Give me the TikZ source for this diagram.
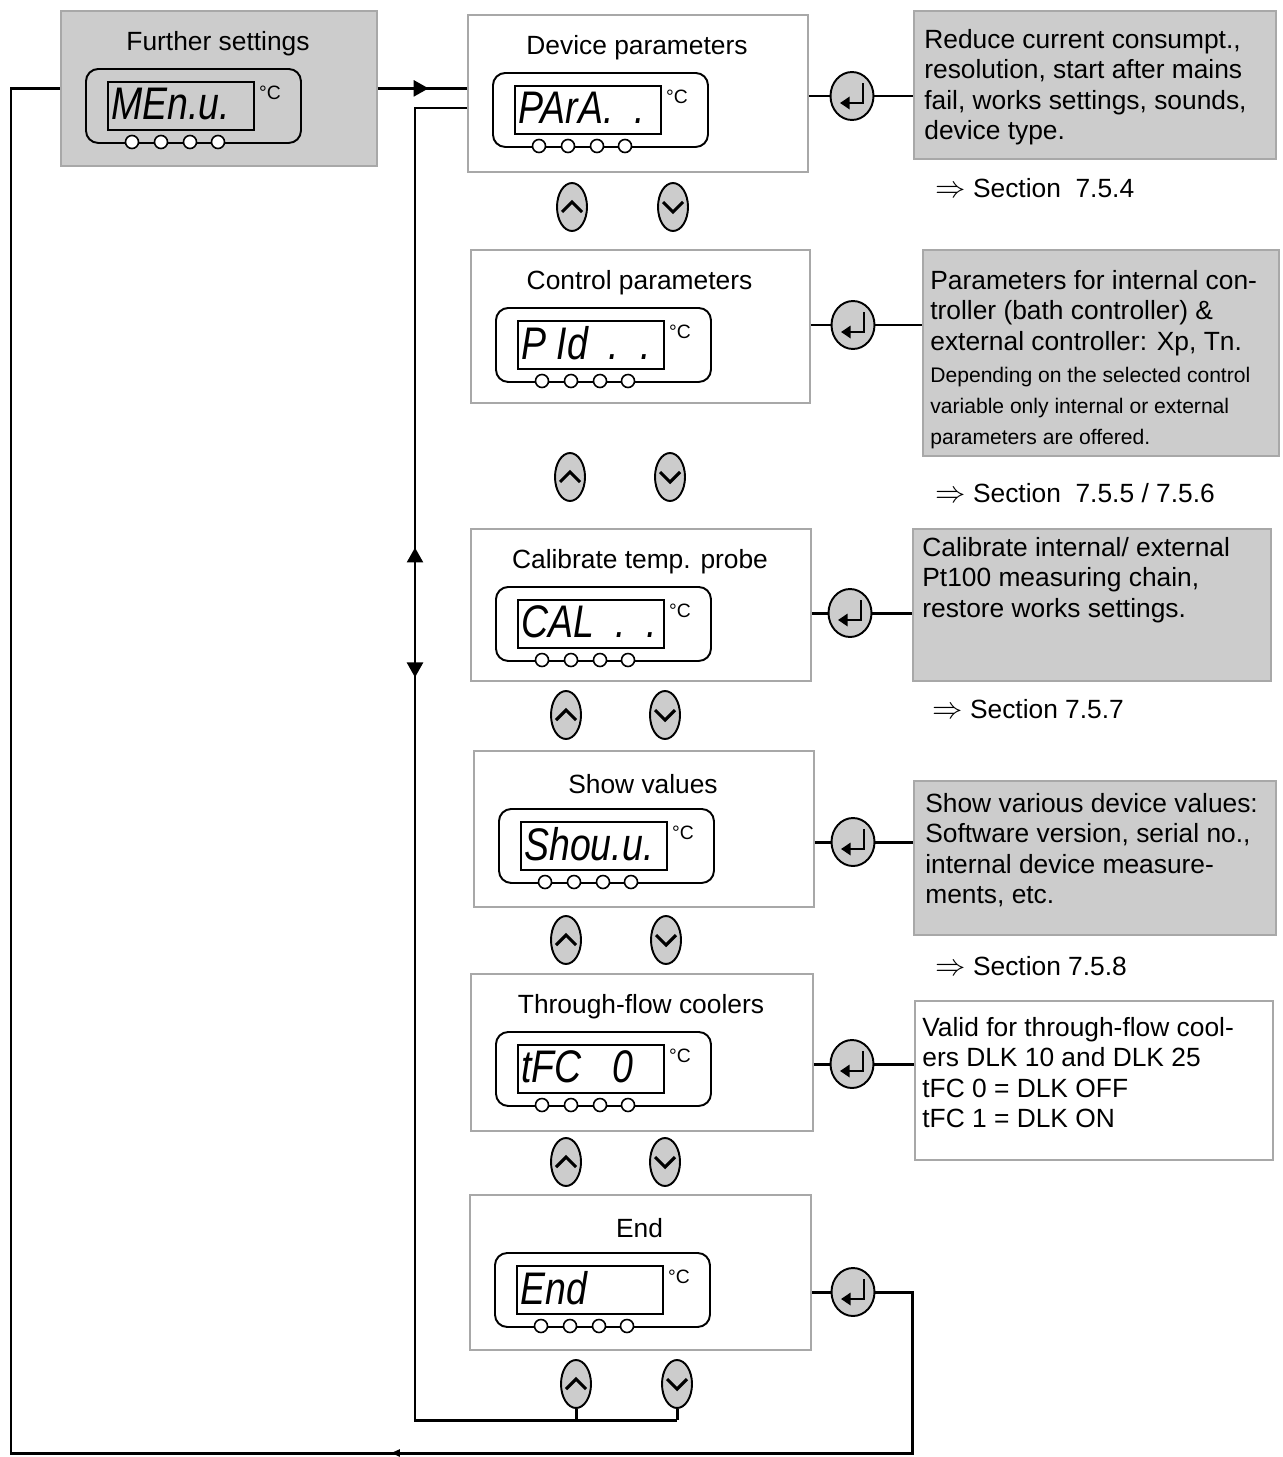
\documentclass[tikz,border=0pt]{standalone}
\usepackage{fontspec}
\setmainfont{Liberation Sans}
\newfontfamily\segfont{Liberation Sans}[FakeStretch=0.82]
\usetikzlibrary{shapes.geometric,arrows.meta,decorations.markings,calc}
\definecolor{panel}{HTML}{CCCCCC}
\definecolor{frame}{HTML}{A8A8A8}
\tikzset{
 boxst/.style={draw=frame, line width=1pt, anchor=north west, inner sep=0},
 titlest/.style={font=\fontsize{15}{18}\selectfont, inner sep=0},
 dispout/.style={draw=black, line width=1.1pt, rounded corners=7pt, anchor=north west, inner sep=0, minimum width=215*0.02cm, minimum height=74*0.02cm},
 dispin/.style={draw=black, line width=0.9pt, anchor=north west, inner sep=0, minimum width=146*0.02cm, minimum height=48*0.02cm},
 led/.style={circle, draw=black, fill=white, line width=0.9pt, minimum size=13*0.02cm, inner sep=0},
 segtxt/.style={font=\segfont\itshape\fontsize{26}{26}\selectfont, inner sep=0, anchor=west},
 degc/.style={font=\fontsize{11}{12}\selectfont, inner sep=0},
 btn/.style={ellipse, draw=black, fill=panel, line width=1.1pt, inner sep=0, minimum width=0.6cm, minimum height=0.96cm},
 enterbtn/.style={btn, minimum width=0.86cm},
 conn/.style={line width=1.7pt},
 glyph/.style={line width=1.6pt},
 desc/.style={font=\fontsize{15}{17.3}\selectfont, align=left, inner sep=0, anchor=north west},
 descsmall/.style={font=\fontsize{12}{17.6}\selectfont, align=left, inner sep=0, anchor=north west},
 sect/.style={font=\fontsize{15}{18}\selectfont, inner sep=0, anchor=west},
}
\newcommand\impl{{\fontsize{19}{19}\selectfont$\Rightarrow$}}
% #1 name, #2 x, #3 y, #4 w, #5 h, #6 title, #7 display text, #8 fill
\newcommand\menubox[8]{%
 \node[boxst, fill=#8, minimum width=#4*0.02cm, minimum height=#5*0.02cm] (#1) at (#2,#3) {};
 \node[titlest] (#1-title) at ({#2+#4/2},{#3+34}) {#6};
 \node[dispout] (#1-disp) at ({#2+25},{#3+58}) {};
 \node[dispin] (#1-lcd) at ({#2+47},{#3+71}) {};
 \node[segtxt] (#1-seg) at ([shift={(4,-2)}]#1-lcd.west) {#7};
 \node[degc] (#1-deg) at ({#2+210},{#3+83}) {°C};
 \foreach \k/\dx in {1/72,2/101,3/130,4/158}{\node[led] (#1-led\k) at ({#2+\dx},{#3+132}) {};}
}
% #1 name prefix, #2 enter x, #3 enter y, #4 up x, #5 down x, #6 up/down y
\newcommand\buttons[6]{%
 \node[enterbtn] (#1-ent) at (#2,#3) {};
 \draw[glyph, -{Triangle[length=5.5pt,width=7pt]}] ([shift={(11,-13)}]#1-ent.center) -- ([shift={(11,7)}]#1-ent.center) -- ([shift={(-12,7)}]#1-ent.center);
 \node[btn] (#1-up) at (#4,#6) {};
 \draw[glyph, line width=1.8pt] ([shift={(-10,5)}]#1-up.center) -- ([shift={(0,-5)}]#1-up.center) -- ([shift={(10,5)}]#1-up.center);
 \node[btn] (#1-dn) at (#5,#6) {};
 \draw[glyph, line width=1.8pt] ([shift={(-10,-5)}]#1-dn.center) -- ([shift={(0,5)}]#1-dn.center) -- ([shift={(10,-5)}]#1-dn.center);
}
\begin{document}
\begin{tikzpicture}[x=0.02cm,y=-0.02cm]
\useasboundingbox (0,0) rectangle (1282,1457);

% menu boxes
\menubox{FS}{60}{10}{316}{155}{Further settings}{MEn.u.}{panel}
\menubox{DP}{467}{14}{340}{157}{Device parameters}{PArA.\ \ .}{white}
\menubox{CP}{470}{249}{339}{153}{Control parameters}{P Id\ \ .\ \ .}{white}
\menubox{CA}{470}{528}{340}{152}{Calibrate temp. probe}{CAL\ \ .\ \ .}{white}
\menubox{SV}{473}{750}{340}{156}{Show values}{Shou.u.}{white}
\menubox{TF}{470}{973}{342}{157}{Through-flow coolers}{tFC\ \ \ 0}{white}
\menubox{EN}{469}{1194}{341}{155}{End}{End}{white}

% buttons
\buttons{DP}{852}{96}{572}{673}{207}
\buttons{CP}{853}{325}{570}{670}{477}
\buttons{CA}{850}{613}{566}{665}{715}
\buttons{SV}{853}{842}{566}{666}{940}
\buttons{TF}{852}{1064}{566}{665}{1162}
\buttons{EN}{853}{1292}{576}{677}{1384}

% description boxes
\node[boxst, fill=panel, minimum width=362*0.02cm, minimum height=148*0.02cm] (d1) at (913,10) {};
\node[desc] (d1-text) at (924,29) {Reduce current consumpt.,\\resolution, start after mains\\fail, works settings, sounds,\\device type.};
\node[sect] (s1) at (935,188) {\impl\ Section\ \ 7.5.4};

\node[boxst, fill=panel, minimum width=356*0.02cm, minimum height=206*0.02cm] (d2) at (922,249) {};
\node[desc] (d2-text) at (930,270) {Parameters for internal con-\\troller (bath controller) \&\\external controller: Xp, Tn.};
\node[descsmall] (d2-small) at (930,367) {Depending on the selected control\\variable only internal or external\\parameters are offered.};
\node[sect] (s2) at (935,493) {\impl\ Section\ \ 7.5.5 / 7.5.6};

\node[boxst, fill=panel, minimum width=358*0.02cm, minimum height=152*0.02cm] (d3) at (912,528) {};
\node[desc] (d3-text) at (922,537) {Calibrate internal/ external\\Pt100 measuring chain,\\restore works settings.};
\node[sect] (s3) at (932,709) {\impl\ Section 7.5.7};

\node[boxst, fill=panel, minimum width=362*0.02cm, minimum height=154*0.02cm] (d4) at (913,780) {};
\node[desc] (d4-text) at (925,793) {Show various device values:\\Software version, serial no.,\\internal device measure-\\ments, etc.};
\node[sect] (s4) at (935,966) {\impl\ Section 7.5.8};

\node[boxst, fill=white, minimum width=358*0.02cm, minimum height=159*0.02cm] (d5) at (914,1000) {};
\node[desc] (d5-text) at (922,1017) {Valid for through-flow cool-\\ers DLK 10 and DLK 25\\tFC 0 = DLK OFF\\tFC 1 = DLK ON};

% enter connectors
\foreach \p/\d in {DP/d1,CP/d2,CA/d3,SV/d4,TF/d5}{
 \draw[conn] (\p.east |- \p-ent) -- (\p-ent);
 \draw[conn] (\p-ent) -- (\d.west |- \p-ent);
}
\draw[conn] (EN.east |- EN-ent) -- (EN-ent);

% coordinates for the loops
\coordinate (lt) at (415,108);
\coordinate (lb) at (415,1420);
\coordinate (rr) at (912,1453);
\coordinate (ll) at (11,1453);

% further settings -> device parameters
\draw[conn, decoration={markings, mark=at position 0.57 with {\arrow{Triangle[length=8.5pt,width=9pt]}}}, postaction={decorate}] (FS.east) -- (FS.east -| DP.west);

% inner loop (up/down of End back to top)
\draw[conn] (DP.west |- lt) -- (lt) -- (lb) -- (EN-dn.south |- lb);
\draw[conn, decoration={markings,
  mark=at position 0.335 with {\arrowreversed{Triangle[length=8.5pt,width=9pt]}},
  mark=at position 0.434 with {\arrow{Triangle[length=8.5pt,width=9pt]}}}, postaction={decorate}] (lt) -- (lb);
\draw[conn] (EN-up.south) -- (EN-up.south |- lb);
\draw[conn] (EN-dn.south) -- (EN-dn.south |- lb);

% outer loop (enter on End back to further settings)
\draw[conn, decoration={markings, mark=at position 0.286 with {\arrow{Triangle[length=5pt,width=4pt]}}}, postaction={decorate}]
 (EN-ent) -- (EN-ent -| rr) -- (rr) -- (ll) -- (FS.west -| ll) -- (FS.west);
\end{tikzpicture}
\end{document}
